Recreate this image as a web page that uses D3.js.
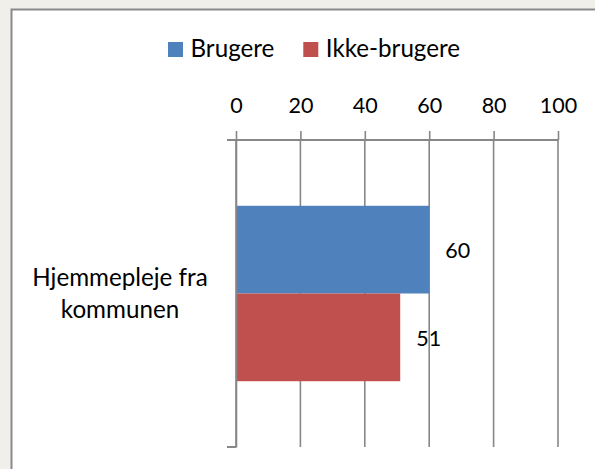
<!DOCTYPE html>
<html>
<head>
<meta charset="utf-8">
<script src="https://cdn.jsdelivr.net/npm/d3@7"></script>
<style>
  html, body { margin: 0; padding: 0; background: #f0efea; }
  svg { display: block; }
  text { font-family: Lato, "Open Sans", sans-serif; fill: #000; }
</style>
</head>
<body>
<svg id="chart" width="595" height="469"></svg>
<script>
const categories = ["Hjemmepleje fra kommunen"];
const categoryLines = [["Hjemmepleje fra", "kommunen"]];
const seriesNames = ["Brugere", "Ikke-brugere"];
const brugere = [60];
const ikkeBrugere = [51];
const tickValues = [0, 20, 40, 60, 80, 100];
const colors = ["#4f81bd", "#c0504d"];

const svg = d3.select("#chart");
const W = 595, H = 469;
const numSize = 21.5;
const wordSize = 24.2;
const gridColor = "#878787";

svg.append("rect").attr("width", W).attr("height", H).attr("fill", "#f0efea");
svg.append("rect").attr("x", 11.5).attr("y", 9.5).attr("width", 700).attr("height", 600)
  .attr("fill", "#fff").attr("stroke", "#8a8a8a").attr("stroke-width", 2);

const x = d3.scaleLinear().domain([0, 100]).range([236, 558]);
const y0 = d3.scaleBand().domain(categories).range([140, 447]).padding(0);
const y1 = d3.scaleBand().domain(seriesNames).range([0, y0.bandwidth()]).paddingInner(0).paddingOuter(0.75);

const seriesValues = [brugere, ikkeBrugere];

// gridlines
svg.append("g").selectAll("line").data(tickValues).join("line")
  .attr("x1", d => x(d)).attr("x2", d => x(d))
  .attr("y1", y0.range()[0]).attr("y2", y0.range()[1])
  .attr("stroke", gridColor).attr("stroke-width", 1.6);

// bars
categories.forEach((c, ci) => {
  const g = svg.append("g").attr("transform", `translate(0,${y0(c)})`);
  seriesNames.forEach((s, si) => {
    const v = seriesValues[si][ci];
    g.append("rect")
      .attr("x", x(0)).attr("y", y1(s))
      .attr("width", x(v) - x(0)).attr("height", y1.bandwidth())
      .attr("fill", colors[si]);
    g.append("text")
      .attr("x", x(v) + 16)
      .attr("y", y1(s) + y1.bandwidth() / 2 + 8.5)
      .attr("font-size", numSize)
      .text(v);
  });
});

// top value axis
const axTop = svg.append("g").attr("transform", `translate(0,${y0.range()[0]})`)
  .call(d3.axisTop(x).tickValues(tickValues).tickSize(9).tickSizeOuter(0).tickPadding(18.5));
axTop.select(".domain").attr("stroke", gridColor).attr("stroke-width", 2)
  .attr("d", `M${x(0) - 9},0H${x(100)}`);
axTop.selectAll(".tick line").attr("stroke", gridColor).attr("stroke-width", 1.6);
axTop.selectAll(".tick text").attr("font-size", numSize).attr("font-family", "Lato").attr("fill", "#000");

// left category axis
const axLeft = svg.append("g").attr("transform", `translate(${x(0)},0)`)
  .call(d3.axisLeft(y0).tickSize(0).tickPadding(0).tickFormat(""));
axLeft.select(".domain").attr("stroke", gridColor).attr("stroke-width", 1.6);
axLeft.selectAll("line.bound").data(y0.range()).join("line").attr("class", "bound")
  .attr("x1", -9).attr("x2", 0).attr("y1", d => d).attr("y2", d => d)
  .attr("stroke", gridColor).attr("stroke-width", 2);

// category labels
categories.forEach((c, ci) => {
  const t = svg.append("text").attr("text-anchor", "middle").attr("font-size", wordSize);
  const cy = y0(c) + y0.bandwidth() / 2;
  categoryLines[ci].forEach((ln, li) => {
    t.append("tspan").attr("x", 120).attr("y", cy - 8 + li * 32.5).text(ln);
  });
});

// legend
const legendX = [168, 303.3];
seriesNames.forEach((s, i) => {
  svg.append("rect").attr("x", legendX[i]).attr("y", 42).attr("width", 15).attr("height", 15).attr("fill", colors[i]);
  svg.append("text").attr("x", legendX[i] + 22.5).attr("y", 56.7).attr("font-size", wordSize).text(s);
});
</script>
</body>
</html>
